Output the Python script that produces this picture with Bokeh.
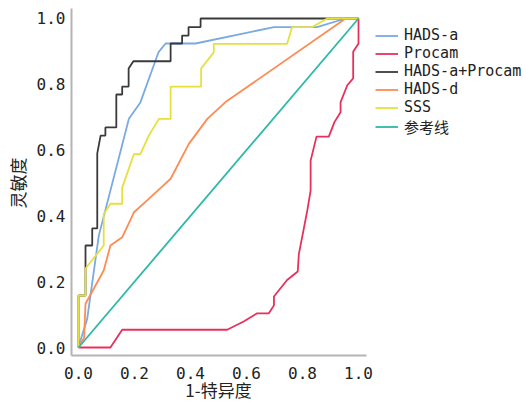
import math
from bokeh.plotting import figure
from bokeh.models import Range1d, FixedTicker, Legend, LegendItem, Label
from bokeh.embed import file_html
from bokeh.resources import INLINE

# ---- data (1-specificity, sensitivity) ----
hads_a_x = [0, 0.005, 0.031, 0.0725, 0.18, 0.221, 0.286, 0.311, 0.418, 0.698, 0.852, 0.954, 1.0]
hads_a_y = [0, 0.016, 0.087, 0.34, 0.695, 0.745, 0.898, 0.924, 0.924, 0.974, 0.974, 1.0, 1.0]

procam_x = [0, 0.114, 0.156, 0.531, 0.59, 0.638, 0.68, 0.698, 0.698, 0.745, 0.783, 0.787, 0.817,
            0.829, 0.829, 0.85, 0.894, 0.914, 0.936, 0.936, 0.96, 0.981, 0.981, 1.0, 1.0]
procam_y = [0, 0, 0.054, 0.054, 0.079, 0.104, 0.104, 0.128, 0.155, 0.205, 0.231, 0.284, 0.416,
            0.477, 0.568, 0.641, 0.641, 0.685, 0.715, 0.746, 0.797, 0.818, 0.899, 0.924, 1.0]

combo_x = [0, 0, 0.025, 0.025, 0.049, 0.049, 0.067, 0.067, 0.079, 0.096, 0.096, 0.135, 0.135,
           0.156, 0.156, 0.179, 0.179, 0.196, 0.329, 0.329, 0.37, 0.37, 0.393, 0.393, 0.436, 0.436, 1.0]
combo_y = [0, 0.158, 0.158, 0.31, 0.31, 0.362, 0.362, 0.59, 0.644, 0.644, 0.669, 0.669, 0.769,
           0.769, 0.793, 0.793, 0.848, 0.87, 0.87, 0.924, 0.924, 0.948, 0.948, 0.974, 0.974, 1.0, 1.0]

hads_d_x = [0, 0.02, 0.025, 0.09, 0.114, 0.156, 0.198, 0.245, 0.287, 0.329, 0.394, 0.46, 0.525, 0.954, 1.0]
hads_d_y = [0, 0.03, 0.133, 0.234, 0.31, 0.335, 0.411, 0.447, 0.48, 0.513, 0.619, 0.695, 0.746, 1.0, 1.0]

sss_x = [0, 0, 0.025, 0.025, 0.09, 0.09, 0.114, 0.156, 0.156, 0.198, 0.221, 0.251, 0.287, 0.329,
         0.329, 0.438, 0.438, 0.483, 0.483, 0.745, 0.763, 0.835, 0.888, 1.0]
sss_y = [0, 0.158, 0.158, 0.24, 0.31, 0.406, 0.437, 0.437, 0.486, 0.588, 0.588, 0.644, 0.695, 0.695,
         0.793, 0.793, 0.848, 0.897, 0.923, 0.923, 0.974, 0.974, 1.0, 1.0]

ref_x = [0, 1]
ref_y = [0, 1]

series_names = ["HADS-a", "Procam", "HADS-a+Procam", "HADS-d", "SSS", "参考线"]
series_colors = ["#7AAAE2", "#E8305C", "#3A3A3A", "#FF8B52", "#E6E03C", "#2DB8A8"]
tick_values = [0.0, 0.2, 0.4, 0.6, 0.8, 1.0]
x_title = "1-特异度"
y_title = "灵敏度"

# the frame covers the whole canvas; axes are pinned inside it
p = figure(width=526, height=403, output_backend="svg", toolbar_location=None,
           x_range=Range1d(-0.2786, 1.6), y_range=Range1d(-0.1702, 1.0547),
           min_border_left=0, min_border_right=0, min_border_top=0, min_border_bottom=0)
p.outline_line_color = None
p.xgrid.visible = False
p.ygrid.visible = False
p.background_fill_color = "white"
p.border_fill_color = "white"

xs = [hads_a_x, procam_x, combo_x, hads_d_x, sss_x, ref_x]
ys = [hads_a_y, procam_y, combo_y, hads_d_y, sss_y, ref_y]
renderers = []
for x, y, c in zip(xs, ys, series_colors):
    renderers.append(p.line(x, y, line_color=c, line_width=1.8))

mono = "'DejaVu Sans Mono', 'Noto Sans CJK SC', monospace"
cjk = "'Noto Sans CJK SC', sans-serif"

for ax in (p.xaxis[0], p.yaxis[0]):
    ax.ticker = FixedTicker(ticks=tick_values)
    ax.axis_line_color = "#B4B4B4"
    ax.axis_line_width = 2
    ax.major_tick_line_color = None
    ax.minor_tick_line_color = None
    ax.major_tick_out = 0
    ax.major_tick_in = 0
    ax.minor_tick_out = 0
    ax.minor_tick_in = 0
    ax.major_label_text_font = mono
    ax.major_label_text_font_size = "16px"
    ax.major_label_text_color = "#222222"
    ax.major_label_overrides = {v: f"{v:.1f}" for v in tick_values}

p.xaxis[0].fixed_location = -0.025
p.xaxis[0].bounds = (-0.025, 1.028)
p.xaxis[0].major_label_standoff = 11
p.yaxis[0].fixed_location = -0.025
p.yaxis[0].bounds = (-0.025, 1.03)
p.yaxis[0].major_label_standoff = 6

p.add_layout(Label(x=0.5, y=-0.1277, text=x_title, text_align="center",
                   text_baseline="middle", text_font=cjk, text_font_size="17px",
                   text_color="#222222"))
p.add_layout(Label(x=-0.219, y=0.5, text=y_title, angle=math.pi / 2, text_align="center",
                   text_baseline="middle", text_font=cjk, text_font_size="17px",
                   text_color="#222222"))

legend = Legend(items=[LegendItem(label=n, renderers=[r]) for n, r in zip(series_names, renderers)],
                location=(375, 266), padding=0, margin=0, spacing=0,
                glyph_width=23, glyph_height=15, label_height=15, label_standoff=6,
                label_text_font=mono, label_text_font_size="15px", label_text_color="#222222",
                label_text_line_height=1.0,
                border_line_color=None, background_fill_alpha=0)
p.add_layout(legend, "center")

open("out.html", "w").write(file_html(p, INLINE))
